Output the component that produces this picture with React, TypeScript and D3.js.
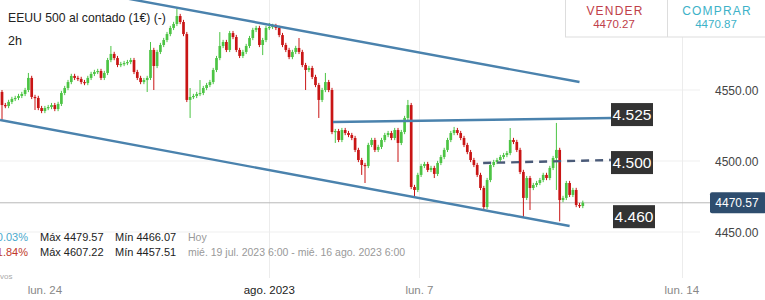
import React from "react";
import * as d3 from "d3";

// ---- DATA ----
const firstOpen = 4548.6;
const closes = [
  4539.4, 4538.7, 4541.6, 4543.7, 4544.4, 4545.8, 4547.2, 4550.0, 4558.5, 4545.1,
  4544.4, 4537.3, 4535.2, 4537.3, 4538.0, 4539.4, 4536.6, 4540.2, 4547.9, 4551.4,
  4555.6, 4559.9, 4558.5, 4557.8, 4555.6, 4554.9, 4558.5, 4561.3, 4562.7, 4563.4,
  4558.5, 4562.0, 4571.1, 4575.4, 4572.5, 4567.6, 4568.3, 4569.0, 4569.7, 4571.1,
  4562.7, 4558.5, 4555.6, 4557.0, 4558.5, 4578.2, 4566.9, 4576.8, 4581.7, 4585.2,
  4589.4, 4593.7, 4596.5, 4602.1, 4597.9, 4589.4, 4543.0, 4545.1, 4545.8, 4547.2,
  4547.9, 4551.4, 4553.5, 4555.6, 4564.1, 4572.5, 4581.0, 4583.8, 4578.2, 4590.1,
  4587.3, 4578.2, 4574.0, 4576.8, 4581.0, 4586.6, 4592.3, 4593.7, 4581.7, 4585.2,
  4593.7, 4594.4, 4595.1, 4593.7, 4588.7, 4581.7, 4578.2, 4573.2, 4576.8, 4579.6,
  4576.8, 4567.6, 4564.1, 4565.5, 4559.2, 4553.5, 4543.0, 4550.0, 4555.6, 4550.0,
  4520.4, 4521.1, 4514.8, 4521.8, 4519.7, 4518.3, 4516.2, 4507.8, 4500.7, 4497.2,
  4496.5, 4511.3, 4514.8, 4507.8, 4509.9, 4514.8, 4518.3, 4519.7, 4516.2, 4521.8,
  4512.7, 4520.4, 4530.3, 4539.4, 4481.7, 4479.6, 4490.2, 4496.5, 4497.9, 4493.7,
  4495.1, 4490.9, 4498.6, 4502.8, 4507.8, 4514.8, 4519.7, 4521.8, 4519.7, 4516.2,
  4511.3, 4506.3, 4500.7, 4497.2, 4490.2, 4481.0, 4467.6, 4486.6, 4497.2, 4499.3,
  4500.7, 4502.8, 4504.2, 4505.6, 4514.8, 4513.4, 4507.8, 4492.3, 4474.0, 4488.0,
  4481.0, 4483.1, 4484.5, 4486.6, 4490.2, 4488.0, 4495.1, 4502.1, 4507.8, 4472.5,
  4474.0, 4484.5, 4476.1, 4479.6, 4469.0, 4468.3, 4470.6,
];
const highs = [
  4550.0, 4540.9, 4543.1, 4545.2, 4545.9, 4547.3, 4548.7, 4551.5, 4562.0, 4560.0,
  4546.6, 4545.9, 4538.8, 4538.8, 4539.5, 4540.9, 4540.9, 4541.7, 4549.4, 4552.9,
  4557.1, 4561.4, 4561.4, 4560.0, 4559.3, 4557.1, 4560.0, 4562.8, 4564.2, 4564.9,
  4564.9, 4563.5, 4572.6, 4581.0, 4576.9, 4574.0, 4569.8, 4570.5, 4571.2, 4572.6,
  4572.6, 4564.2, 4560.0, 4558.5, 4560.0, 4583.8, 4579.7, 4578.3, 4583.2, 4586.7,
  4590.9, 4595.2, 4598.0, 4607.2, 4603.6, 4599.4, 4590.9, 4551.4, 4547.3, 4548.7,
  4557.0, 4552.9, 4555.0, 4557.1, 4565.6, 4574.0, 4590.8, 4585.3, 4585.3, 4591.6,
  4591.6, 4588.8, 4579.7, 4578.3, 4582.5, 4588.1, 4593.8, 4595.2, 4595.2, 4586.7,
  4595.2, 4597.2, 4596.6, 4596.6, 4595.2, 4590.2, 4583.2, 4579.7, 4578.3, 4581.1,
  4586.6, 4578.3, 4569.1, 4567.0, 4567.0, 4560.7, 4555.0, 4551.5, 4562.0, 4557.1,
  4551.5, 4522.6, 4522.6, 4523.3, 4523.3, 4521.2, 4519.8, 4517.7, 4509.3, 4502.2,
  4498.7, 4512.8, 4516.3, 4516.3, 4511.4, 4516.3, 4519.8, 4521.2, 4521.2, 4523.3,
  4523.3, 4521.9, 4531.8, 4543.0, 4540.9, 4483.2, 4491.7, 4498.0, 4499.4, 4499.4,
  4496.6, 4496.6, 4500.1, 4504.3, 4509.3, 4516.3, 4521.2, 4524.0, 4523.3, 4521.2,
  4517.7, 4512.8, 4507.8, 4502.2, 4498.7, 4491.7, 4482.5, 4488.1, 4498.7, 4500.8,
  4502.2, 4504.3, 4505.7, 4507.1, 4523.2, 4516.3, 4514.9, 4509.3, 4493.8, 4489.5,
  4489.5, 4484.6, 4486.0, 4488.1, 4491.7, 4491.7, 4496.6, 4503.6, 4526.8, 4509.3,
  4475.5, 4486.0, 4486.0, 4481.1, 4481.1, 4470.5, 4472.1,
];
const lows = [
  4528.9, 4537.2, 4537.2, 4540.1, 4542.2, 4542.9, 4544.3, 4545.7, 4548.5, 4543.6,
  4535.9, 4535.8, 4533.7, 4533.7, 4535.8, 4536.5, 4535.1, 4535.1, 4538.7, 4546.4,
  4549.9, 4554.1, 4557.0, 4556.3, 4554.1, 4553.4, 4553.4, 4557.0, 4559.8, 4561.2,
  4557.0, 4557.0, 4560.5, 4569.6, 4571.0, 4566.1, 4566.1, 4566.8, 4567.5, 4568.2,
  4561.2, 4557.0, 4554.1, 4554.1, 4548.6, 4557.0, 4550.0, 4565.4, 4575.3, 4580.2,
  4583.7, 4587.9, 4592.2, 4595.0, 4596.4, 4587.9, 4541.5, 4530.3, 4543.6, 4544.3,
  4545.7, 4546.4, 4549.9, 4552.0, 4554.1, 4562.6, 4571.0, 4579.5, 4576.7, 4576.7,
  4585.8, 4576.7, 4572.5, 4572.5, 4575.3, 4579.5, 4585.1, 4590.8, 4580.2, 4574.6,
  4583.7, 4592.2, 4592.9, 4592.2, 4587.2, 4580.2, 4576.7, 4571.7, 4571.7, 4575.3,
  4575.3, 4566.1, 4550.0, 4562.6, 4557.7, 4552.0, 4530.3, 4541.5, 4548.5, 4548.5,
  4518.9, 4512.7, 4513.3, 4513.3, 4518.2, 4516.8, 4514.7, 4506.3, 4499.2, 4490.2,
  4484.5, 4495.0, 4509.8, 4506.3, 4506.3, 4508.4, 4513.3, 4516.8, 4514.7, 4514.7,
  4499.3, 4511.2, 4518.9, 4528.8, 4480.2, 4474.7, 4478.1, 4488.7, 4495.0, 4492.2,
  4492.2, 4488.0, 4489.4, 4497.1, 4501.3, 4506.3, 4513.3, 4518.2, 4518.2, 4514.7,
  4509.8, 4504.8, 4499.2, 4495.7, 4488.7, 4479.5, 4465.5, 4466.1, 4485.1, 4495.7,
  4497.8, 4499.2, 4501.3, 4502.7, 4504.1, 4511.9, 4506.3, 4490.8, 4460.6, 4472.5,
  4465.5, 4479.5, 4481.6, 4483.0, 4485.1, 4486.5, 4486.5, 4493.6, 4479.6, 4457.5,
  4471.0, 4472.5, 4474.6, 4474.6, 4467.5, 4466.9, 4466.8,
];

const yTicks = [4450, 4500, 4550];
const xTickIdx = [13, 81, 126.5, 206];
const xTickLabels = ["lun. 24", "ago. 2023", "lun. 7", "lun. 14"];
const xGridIdx = [81, 126.5, 206];

const lastPrice = 4470.57;
// trend lines: [index, price] endpoints
const channelLines = [
  [[37, 4614.8], [175, 4555.6]],
  [[-0.6, 4528.9], [172, 4454.2]],
  [[100.3, 4527.5], [185, 4530.3]],
];
const dashedLines = [[[145.8, 4498.6], [184.5, 4500.7]]];
const levelLabels = ["4.525", "4.500", "4.460"];
const levelValues = [4532.7, 4498.9, 4460.8];

const title = "EEUU 500 al contado (1€) (-)";
const interval = "2h";
const sellLabel = "VENDER";
const sellPrice = "4470.27";
const buyLabel = "COMPRAR";
const buyPrice = "4470.87";
const statRows = [
  { pct: "-0.03%", max: "Máx 4479.57", min: "Mín 4466.07", range: "Hoy" },
  { pct: "-1.84%", max: "Máx 4607.22", min: "Mín 4457.51", range: "mié. 19 jul. 2023 6:00 - mié. 16 ago. 2023 6:00" },
];

export default function App() {
  const W = 765, H = 300;
  const x = d3.scaleLinear().domain([0, 176]).range([2, 582.8]);
  const y = d3.scaleLinear().domain([4450, 4550]).range([232, 90]);
  const font = "'Liberation Sans', Arial, sans-serif";
  const green = "#4cc444";
  const red = "#c91515";
  const lineColor = "#4a82ad";
  const bw = 2.7;
  const line = d3.line<number[]>().x((d) => x(d[0])).y((d) => y(d[1]));

  return (
    <svg width={W} height={H} style={{ position: "absolute", left: 0, top: 0, background: "#fff" }} fontFamily={font}>
      {/* grid */}
      {yTicks.map((t) => (
        <line key={"gy" + t} x1={0} x2={700} y1={y(t)} y2={y(t)} stroke="#efefef" strokeWidth={1} />
      ))}
      {xGridIdx.map((t) => (
        <line key={"gx" + t} x1={Math.round(x(t)) + 0.5} x2={Math.round(x(t)) + 0.5} y1={0} y2={278} stroke="#ececec" strokeWidth={1} />
      ))}
      {/* last price line */}
      <line x1={0} x2={712} y1={y(lastPrice)} y2={y(lastPrice)} stroke="#b8b8b8" strokeWidth={1} />

      {/* candles */}
      {closes.map((c, i) => {
        const o = i === 0 ? firstOpen : closes[i - 1];
        const col = c >= o ? green : red;
        const cx = x(i);
        const top = y(Math.max(o, c));
        const bot = y(Math.min(o, c));
        return (
          <g key={i}>
            <line x1={cx} x2={cx} y1={y(highs[i])} y2={y(lows[i])} stroke={col} strokeWidth={1} />
            <rect x={cx - bw / 2} y={top} width={bw} height={Math.max(1.2, bot - top)} fill={col} />
          </g>
        );
      })}

      {/* trend lines */}
      {channelLines.map((l, i) => (
        <path key={"cl" + i} d={line(l as number[][]) || ""} stroke={lineColor} strokeWidth={2.4} fill="none" />
      ))}
      {dashedLines.map((l, i) => (
        <path key={"dl" + i} d={line(l as number[][]) || ""} stroke="#4a5a78" strokeWidth={2.4} strokeDasharray="8,6" fill="none" />
      ))}

      {/* level labels */}
      {levelLabels.map((t, i) => (
        <g key={"lv" + i}>
          <rect x={611 + (i === 2 ? 2 : 0)} y={y(levelValues[i]) - 11.5} width={42} height={23} fill="#333333" />
          <text x={632 + (i === 2 ? 2 : 0)} y={y(levelValues[i]) + 5.5} fontSize={15.5} fill="#fff" textAnchor="middle">{t}</text>
        </g>
      ))}

      {/* y axis labels */}
      {yTicks.map((t) => (
        <text key={"yl" + t} x={715} y={y(t) + 4.5} fontSize={12} fill="#444">{t.toFixed(2)}</text>
      ))}
      <rect x={710} y={y(lastPrice) - 10.5} width={56} height={21} rx={2} fill="#2e4d6e" />
      <text x={737} y={y(lastPrice) + 4.5} fontSize={12} fill="#fff" textAnchor="middle">{lastPrice.toFixed(2)}</text>

      {/* x axis labels */}
      {xTickLabels.map((t, i) => (
        <text key={"xl" + i} x={x(xTickIdx[i])} y={294} fontSize={11.5} fill={i === 1 ? "#222" : "#888"} textAnchor="middle">{t}</text>
      ))}

      {/* title */}
      <text x={8} y={22} fontSize={12.2} fill="#222">{title}</text>
      <text x={8} y={45} fontSize={12.5} fill="#222">{interval}</text>

      {/* stats */}
      {statRows.map((r, i) => (
        <g key={"st" + i} fontSize={11}>
          <text x={28} y={241 + i * 14.5} textAnchor="end" fill={i === 0 ? "#4aa8cc" : "#c0392b"}>{r.pct}</text>
          <text x={40} y={241 + i * 14.5} fill="#222">{r.max}</text>
          <text x={115} y={241 + i * 14.5} fill="#222">{r.min}</text>
          <text x={188} y={241 + i * 14.5} fill="#999" fontSize={10.5}>{r.range}</text>
        </g>
      ))}
      <text x={0} y={279} fontSize={8} fill="#aaa">vos</text>

      {/* sell/buy box */}
      <rect x={565.5} y={-1} width={201} height={38} fill="#fff" stroke="#ddd" />
      <line x1={667.5} x2={667.5} y1={0} y2={37} stroke="#ddd" />
      <text x={615} y={15} fontSize={12} fill="#c0404a" textAnchor="middle" letterSpacing={1.2}>{sellLabel}</text>
      <text x={614} y={28} fontSize={11.5} fill="#c0404a" textAnchor="middle">{sellPrice}</text>
      <text x={717} y={15} fontSize={12} fill="#3db2c8" textAnchor="middle" letterSpacing={1.2}>{buyLabel}</text>
      <text x={716} y={28} fontSize={11.5} fill="#3db2c8" textAnchor="middle">{buyPrice}</text>
    </svg>
  );
}
